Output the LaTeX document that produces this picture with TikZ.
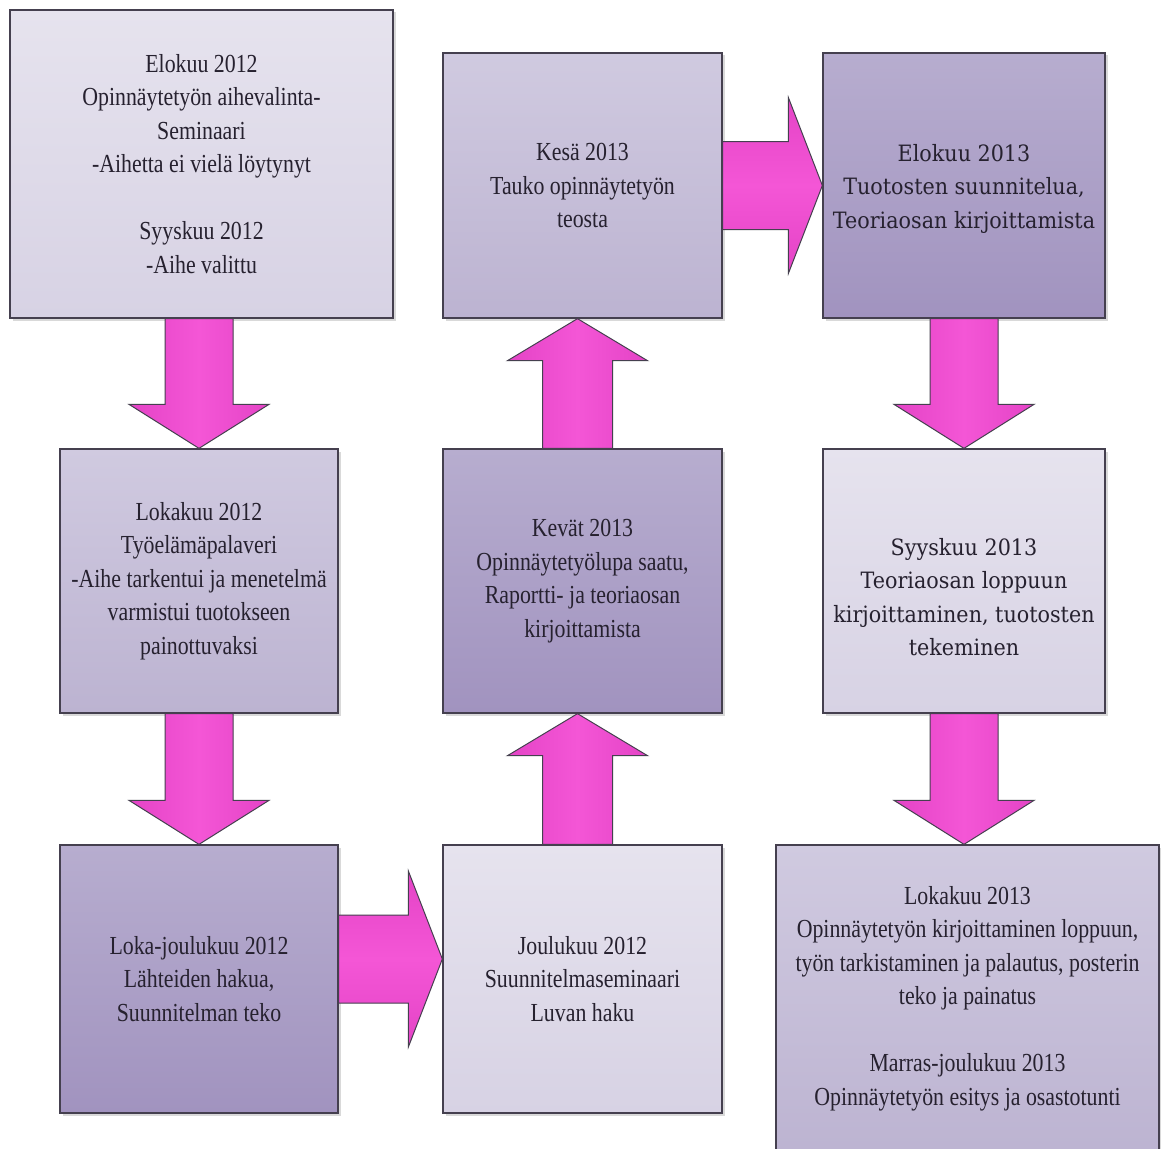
\documentclass[tikz,border=0pt]{standalone}
\usepackage{fontspec}
\setmainfont{Liberation Serif}[FakeStretch=0.84]
\newfontfamily\wideserif{DejaVu Serif}[FakeStretch=0.92]
\usetikzlibrary{calc,shadows}
\definecolor{txt}{HTML}{26212F}
\definecolor{edge}{HTML}{45404F}
\definecolor{arrA}{HTML}{E443C6}
\definecolor{arrB}{HTML}{F456D6}
\definecolor{lightT}{HTML}{E6E3EE}
\definecolor{lightB}{HTML}{D7D2E4}
\definecolor{midT}{HTML}{D0CAE0}
\definecolor{midB}{HTML}{BCB3D1}
\definecolor{darkT}{HTML}{B7ADCF}
\definecolor{darkB}{HTML}{A193BF}
\newcommand{\arrDown}[3]{% #1 upper box, #2 lower box, #3 node giving the x
  \draw[vbigarrow] let \p1=(#1.south), \p2=(#2.north), \p3=(#3) in
    (\x3-34pt,\y1) -- (\x3+34pt,\y1) -- (\x3+34pt,\y2+44pt) -- (\x3+70pt,\y2+44pt)
    -- (\x3,\y2) -- (\x3-70pt,\y2+44pt) -- (\x3-34pt,\y2+44pt) -- cycle;}
\newcommand{\arrUp}[3]{% #1 lower box, #2 upper box, #3 x offset
  \draw[vbigarrow] let \p1=(#1.north), \p2=(#2.south) in
    (\x1+#3-35pt,\y1) -- (\x1+#3+35pt,\y1) -- (\x1+#3+35pt,\y2-42pt) -- (\x1+#3+70pt,\y2-42pt)
    -- (\x1+#3,\y2) -- (\x1+#3-70pt,\y2-42pt) -- (\x1+#3-35pt,\y2-42pt) -- cycle;}
\newcommand{\arrRight}[3]{% #1 left box, #2 right box, #3 y offset
  \draw[hbigarrow] let \p1=(#1.east), \p2=(#2.west) in
    (\x1,\y2+#3+44pt) -- (\x2-34pt,\y2+#3+44pt) -- (\x2-34pt,\y2+#3+88pt)
    -- (\x2,\y2+#3) -- (\x2-34pt,\y2+#3-88pt) -- (\x2-34pt,\y2+#3-44pt)
    -- (\x1,\y2+#3-44pt) -- cycle;}
\begin{document}
\begin{tikzpicture}[x=1pt,y=-1pt,
  box/.style={draw=edge,line width=1.3pt,rectangle,align=center,text=txt,
    font=\fontsize{26}{33.5}\selectfont,inner sep=4pt,
    drop shadow={shadow xshift=2.5pt,shadow yshift=-2.5pt,opacity=0.15,fill=black}},
  widebox/.style={box,font=\wideserif\fontsize{22.5}{33.5}\selectfont},
  light/.style={top color=lightT,bottom color=lightB},
  mid/.style={top color=midT,bottom color=midB},
  dark/.style={top color=darkT,bottom color=darkB},
  vbigarrow/.style={draw=edge,line width=1pt,line join=miter,left color=arrA,right color=arrA,middle color=arrB},
  hbigarrow/.style={draw=edge,line width=1pt,line join=miter,top color=arrA,bottom color=arrA,middle color=arrB}]
\clip (0,0) rectangle (1161,1148);
\fill[white] (0,0) rectangle (1161,1148);

\node[box,light,minimum width=383pt,minimum height=308pt] (b1) at (201.5,164)
  {Elokuu 2012\\ Opinnäytetyön aihevalinta-\\ Seminaari\\ -Aihetta ei vielä löytynyt\\[33.5pt] Syyskuu 2012\\ -Aihe valittu};
\node[box,mid,minimum width=278pt,minimum height=264pt] (b2) at (199,581)
  {Lokakuu 2012\\ Työelämäpalaveri\\ -Aihe tarkentui ja menetelmä\\ varmistui tuotokseen\\ painottuvaksi};
\node[box,dark,minimum width=278pt,minimum height=268pt] (b3) at (199,979)
  {Loka-joulukuu 2012\\ Lähteiden hakua,\\ Suunnitelman teko};
\node[box,light,minimum width=279pt,minimum height=268pt] (b4) at (582.5,979)
  {Joulukuu 2012\\ Suunnitelmaseminaari\\ Luvan haku};
\node[box,dark,minimum width=279pt,minimum height=264pt] (b5) at (582.5,581)
  {Kevät 2013\\ Opinnäytetyölupa saatu,\\ Raportti- ja teoriaosan\\ kirjoittamista};
\node[box,mid,minimum width=279pt,minimum height=265pt] (b6) at (582.5,185.5)
  {Kesä 2013\\ Tauko opinnäytetyön\\ teosta};
\node[widebox,dark,minimum width=282pt,minimum height=265pt] (b7) at (964,185.5)
  {\strut\\[-33.5pt] Elokuu 2013\\ Tuotosten suunnitelua,\\ Teoriaosan kirjoittamista};
\node[widebox,light,minimum width=282pt,minimum height=264pt] (b8) at (964,581)
  {\strut\\[-8pt] Syyskuu 2013\\ Teoriaosan loppuun\\ kirjoittaminen, tuotosten\\ tekeminen};
\node[box,mid,minimum width=383pt,minimum height=316pt] (b9) at (967.5,1003)
  {Lokakuu 2013\\ Opinnäytetyön kirjoittaminen loppuun,\\ työn tarkistaminen ja palautus, posterin\\ teko ja painatus\\[33.5pt] Marras-joulukuu 2013\\ Opinnäytetyön esitys ja osastotunti\\[-18.5pt]\mbox{}};

\arrDown{b1}{b2}{b2}
\arrDown{b2}{b3}{b3}
\arrRight{b3}{b4}{20pt}
\arrUp{b4}{b5}{-5pt}
\arrUp{b5}{b6}{-5pt}
\arrRight{b6}{b7}{0pt}
\arrDown{b7}{b8}{b7}
\arrDown{b8}{b9}{b8}
\end{tikzpicture}
\end{document}
